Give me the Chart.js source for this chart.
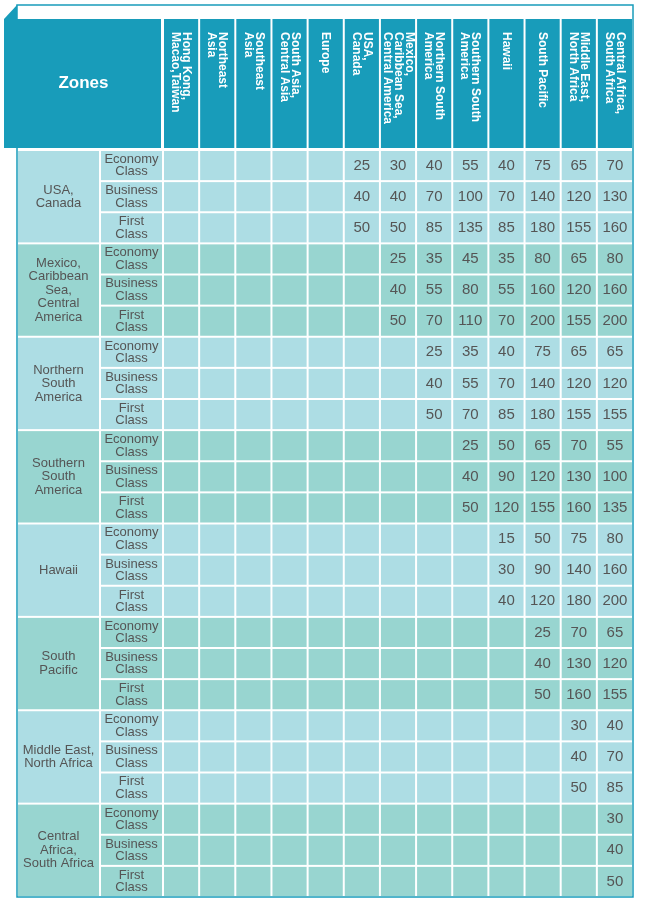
<!DOCTYPE html>
<html><head><meta charset="utf-8">
<script src="https://cdn.jsdelivr.net/npm/chart.js@4/dist/chart.umd.min.js"></script>
<style>body{margin:0;background:#fff}#wrap{width:650px;height:899px;position:relative}</style>
</head><body><div id="wrap"><canvas id="c"></canvas></div>
<script>
const destinations = [
  ["Hong Kong,", "Macao,Taiwan"], ["Northeast", "Asia"], ["Southeast", "Asia"],
  ["South Asia,", "Central Asia"], ["Europe"], ["USA,", "Canada"],
  ["Mexico,", "Caribbean Sea,", "Central America"], ["Northern South", "America"],
  ["Southern South", "America"], ["Hawaii"], ["South Pacific"],
  ["Middle East,", "North Africa"], ["Central Africa,", "South Africa"]
];
const zones = [
  ["USA,", "Canada"], ["Mexico,", "Caribbean", "Sea,", "Central", "America"],
  ["Northern", "South", "America"], ["Southern", "South", "America"], ["Hawaii"],
  ["South", "Pacific"], ["Middle East,", "North Africa"], ["Central", "Africa,", "South Africa"]
];
const classes = [["Economy", "Class"], ["Business", "Class"], ["First", "Class"]];
// first destination column that has a value, per zone
const startCol = [5, 6, 7, 8, 9, 10, 11, 12];
const economy = [
  [25, 30, 40, 55, 40, 75, 65, 70], [25, 35, 45, 35, 80, 65, 80], [25, 35, 40, 75, 65, 65],
  [25, 50, 65, 70, 55], [15, 50, 75, 80], [25, 70, 65], [30, 40], [30]
];
const business = [
  [40, 40, 70, 100, 70, 140, 120, 130], [40, 55, 80, 55, 160, 120, 160], [40, 55, 70, 140, 120, 120],
  [40, 90, 120, 130, 100], [30, 90, 140, 160], [40, 130, 120], [40, 70], [40]
];
const first = [
  [50, 50, 85, 135, 85, 180, 155, 160], [50, 70, 110, 70, 200, 155, 200], [50, 70, 85, 180, 155, 155],
  [50, 120, 155, 160, 135], [40, 120, 180, 200], [50, 160, 155], [50, 85], [50]
];

const points = [];
zones.forEach((z, zi) => {
  [economy, business, first].forEach((cls, ci) => {
    cls[zi].forEach((v, k) => {
      points.push({ x: startCol[zi] + k + 0.5, y: zi * 3 + ci + 0.5, v });
    });
  });
});

const TEAL = "#189cba", BLUE = "#addde4", GREEN = "#98d5d0", TXT = "#555";

const tablePlugin = {
  id: "table",
  beforeDatasetsDraw(chart) {
    const { ctx, scales: { x, y }, chartArea: a } = chart;
    const zoneL = 17, classL = 100;
    ctx.save();
    // frame
    ctx.strokeStyle = TEAL; ctx.lineWidth = 1.5;
    ctx.strokeRect(zoneL, 5, a.right - zoneL, a.bottom - 5);
    ctx.fillStyle = TEAL;
    ctx.beginPath(); ctx.moveTo(4, 19); ctx.lineTo(17, 5); ctx.lineTo(17, 19); ctx.fill();
    // header
    const hTop = 19, hBot = y.getPixelForValue(0) - 2;
    ctx.fillRect(4, hTop, a.left - 2 - 4, hBot - hTop);
    ctx.fillStyle = "#fff"; ctx.font = "bold 17px 'Liberation Sans', Arial";
    ctx.textAlign = "center"; ctx.textBaseline = "middle";
    ctx.fillText("Zones", (4 + a.left) / 2, (hTop + hBot) / 2);
    destinations.forEach((d, i) => {
      const l = x.getPixelForValue(i), r = x.getPixelForValue(i + 1);
      ctx.fillStyle = TEAL;
      ctx.fillRect(l + 1, hTop, r - l - 2, hBot - hTop);
      ctx.save();
      ctx.translate((l + r) / 2, hTop + 13);
      ctx.rotate(Math.PI / 2);
      ctx.fillStyle = "#fff"; ctx.font = "bold 12px 'Liberation Sans', Arial";
      ctx.textAlign = "left";
      const lh = 11;
      d.forEach((t, j) => ctx.fillText(t, 0, (j - (d.length - 1) / 2) * lh));
      ctx.restore();
    });
    // body cells
    zones.forEach((z, zi) => {
      const bg = zi % 2 ? GREEN : BLUE;
      const t = y.getPixelForValue(zi * 3), b = y.getPixelForValue(zi * 3 + 3);
      ctx.fillStyle = bg;
      ctx.fillRect(zoneL + 1, t + 1, classL - zoneL - 2, b - t - 2);
      ctx.fillStyle = TXT; ctx.font = "13px 'Liberation Sans', Arial";
      z.forEach((s, j) => ctx.fillText(s, (zoneL + classL) / 2, (t + b) / 2 + (j - (z.length - 1) / 2) * 13.5));
      classes.forEach((c, ci) => {
        const ct = y.getPixelForValue(zi * 3 + ci), cb = y.getPixelForValue(zi * 3 + ci + 1);
        ctx.fillStyle = bg;
        ctx.fillRect(classL + 1, ct + 1, a.left - classL - 2, cb - ct - 2);
        for (let i = 0; i < destinations.length; i++) {
          const l = x.getPixelForValue(i), r = x.getPixelForValue(i + 1);
          ctx.fillRect(l + 1, ct + 1, r - l - 2, cb - ct - 2);
        }
        ctx.fillStyle = TXT; ctx.font = "13px 'Liberation Sans', Arial";
        c.forEach((s, j) => ctx.fillText(s, (classL + a.left) / 2, (ct + cb) / 2 + (j - 0.5) * 12.5));
      });
    });
    // values
    ctx.fillStyle = TXT; ctx.font = "15px 'Liberation Sans', Arial";
    points.forEach(p => ctx.fillText(String(p.v), x.getPixelForValue(p.x), y.getPixelForValue(p.y)));
    ctx.restore();
  }
};

new Chart(document.getElementById("c"), {
  type: "scatter",
  data: { datasets: [{ data: points, pointRadius: 0 }] },
  options: {
    responsive: true, maintainAspectRatio: false, animation: false,
    layout: { padding: { left: 163, top: 150, right: 17, bottom: 2 } },
    plugins: { legend: { display: false }, tooltip: { enabled: false } },
    scales: {
      x: { type: "linear", min: 0, max: destinations.length, display: false },
      y: { type: "linear", min: 0, max: zones.length * 3, reverse: true, display: false }
    }
  },
  plugins: [tablePlugin]
});
</script></body></html>
